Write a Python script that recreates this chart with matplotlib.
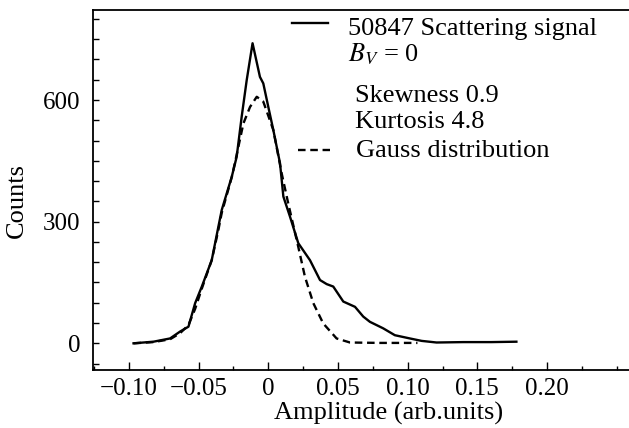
import numpy as np
import matplotlib
matplotlib.use("Agg")
import matplotlib.pyplot as plt
from matplotlib.ticker import MultipleLocator, FixedLocator, FixedFormatter

plt.rcParams['font.family'] = ['Liberation Serif', 'DejaVu Serif']
plt.rcParams['mathtext.fontset'] = 'stix'

# Scattering signal histogram
signal_x = [-0.0967, -0.0824, -0.0705, -0.0633, -0.0573, -0.0525, -0.0477, -0.0406,
            -0.0358, -0.0334, -0.0262, -0.0227, -0.0191, -0.0155, -0.0113, -0.0060,
            -0.0036, 0.0000, 0.0036, 0.0084, 0.0108, 0.0156, 0.0215, 0.0299,
            0.0371, 0.0419, 0.0466, 0.0538, 0.0622, 0.0681, 0.0729, 0.0824,
            0.0908, 0.1016, 0.1100, 0.1207, 0.1400, 0.1600, 0.1780]
signal_y = [0, 4, 12, 29, 41, 99, 140, 205,
            288, 329, 411, 460, 559, 649, 740, 657,
            641, 583, 526, 444, 362, 312, 247, 205,
            156, 146, 140, 103, 90, 66, 53, 37,
            20, 12, 6, 2, 3, 3, 4]

# Gauss fit
gauss_x = [-0.0967, -0.0824, -0.0705, -0.0633, -0.0573, -0.0525, -0.0477, -0.0406,
           -0.0358, -0.0334, -0.0262, -0.0227, -0.0179, -0.0131, -0.0083, -0.0036,
           0.0036, 0.0096, 0.0143, 0.0215, 0.0263, 0.0323, 0.0394, 0.0490,
           0.0586, 0.0800, 0.1070]
gauss_y = [0, 3, 10, 25, 45, 85, 135, 205,
           280, 322, 410, 465, 542, 583, 608, 596,
           526, 419, 345, 238, 164, 99, 49, 12,
           2, 1, 1]

xticks = [-0.10, -0.05, 0.0, 0.05, 0.10, 0.15, 0.20]
xticklabels = ["\u22120.10", "\u22120.05", "0", "0.05", "0.10", "0.15", "0.20"]
yticks = [0, 300, 600]

fig = plt.figure(figsize=(6.29, 4.28), dpi=100)
ax = fig.add_axes([92.7/629, 58/428, 536.3/629, 360/428])

ax.plot(signal_x, signal_y, color='black', lw=1.7)
ax.plot(gauss_x, gauss_y, color='black', lw=1.7, dashes=(3.2, 2.0))

ax.set_xlim(-0.126, 0.2588)
ax.set_ylim(-65.8, 822)

ax.xaxis.set_major_locator(FixedLocator(xticks))
ax.xaxis.set_major_formatter(FixedFormatter(xticklabels))
ax.xaxis.set_minor_locator(MultipleLocator(0.025))
ax.yaxis.set_major_locator(FixedLocator(yticks))
ax.yaxis.set_minor_locator(MultipleLocator(50))

ax.tick_params(axis='both', which='both', direction='in', width=1.0, labelsize=18)
ax.tick_params(axis='x', which='major', length=5.5, pad=6)
ax.tick_params(axis='x', which='minor', length=3)
ax.tick_params(axis='y', which='both', length=4, pad=9)
ax.spines['right'].set_visible(False)
for s in ['left', 'bottom', 'top']:
    ax.spines[s].set_linewidth(1.3)

ax.set_xlabel("Amplitude (arb.units)", fontsize=19, va='baseline')
ax.xaxis.set_label_coords(0.5525, -0.139)
ax.set_ylabel("Counts", fontsize=19)
ax.yaxis.set_label_coords(-0.121, 0.4717)

# legend / annotation block
ax.plot([0.371, 0.439], [0.963, 0.963], color='black', lw=1.7,
        transform=ax.transAxes, clip_on=False)
ax.plot([0.383, 0.4425], [0.611, 0.611], color='black', lw=1.7, dashes=(3.2, 2.0),
        transform=ax.transAxes, clip_on=False)
ax.text(0.476, 0.9306, "50847 Scattering signal", fontsize=19,
        transform=ax.transAxes, va='baseline')
ax.text(0.476, 0.856, "$B_V$ = 0", fontsize=19, transform=ax.transAxes, va='baseline')
ax.text(0.489, 0.745, "Skewness 0.9", fontsize=19, transform=ax.transAxes, va='baseline')
ax.text(0.489, 0.671, "Kurtosis 4.8", fontsize=19, transform=ax.transAxes, va='baseline')
ax.text(0.491, 0.5925, "Gauss distribution", fontsize=19, transform=ax.transAxes, va='baseline')

fig.savefig("out.png", dpi=100)
